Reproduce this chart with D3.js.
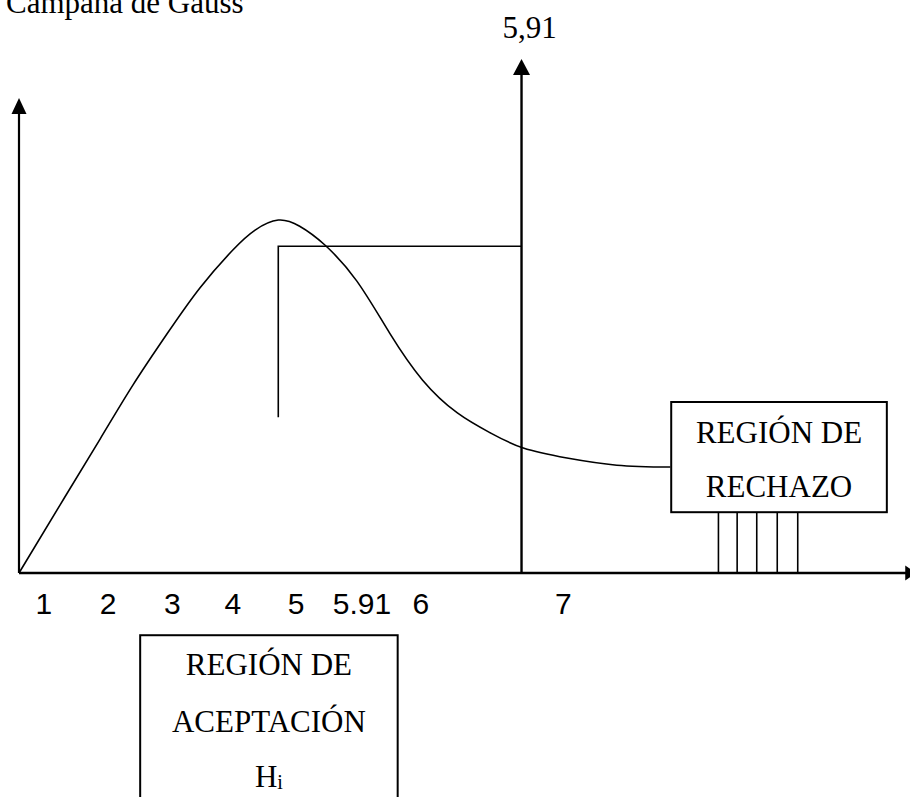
<!DOCTYPE html>
<html>
<head>
<meta charset="utf-8">
<script src="https://cdn.jsdelivr.net/npm/d3@7"></script>
<style>
  html, body { margin: 0; padding: 0; background: #fff; overflow: hidden; }
  svg { display: block; }
  .serif { font-family: "Liberation Serif", "Times New Roman", serif; font-size: 31px; fill: #000; }
  .sans { font-family: "Liberation Sans", Arial, sans-serif; font-size: 30px; fill: #000; }
</style>
</head>
<body>
<svg id="chart" width="910" height="797"></svg>
<script>
// Bell-shaped curve, in diagram units (x: 0–100 along the horizontal axis, y: 0–100 up the vertical axis)
const curveX = [0, 4.6, 9.1, 12.8, 16.6, 20.3, 24.0, 26.5, 29.1, 31.5, 34.3, 37.9, 41.6, 45.3, 49.2, 52.9, 56.6, 61.5, 67.1, 73.1];
const curveY = [0, 14.3, 28.2, 39.6, 50.3, 60.0, 68.0, 72.2, 74.3, 73.0, 69.1, 61.5, 50.5, 40.6, 33.7, 29.5, 26.3, 24.2, 22.7, 22.3];

// Labels under the horizontal axis and the slot each one sits in
const tickLabels = ["1", "2", "3", "4", "5", "5.91", "6", "7"];
const tickSlots  = [2.8, 10.0, 17.2, 24.0, 31.1, 38.5, 45.1, 61.1];

// Critical value line
const criticalLabel = "5,91";
const criticalX = [56.4];
const criticalTop = [108.2];

// Bracket pointing from the critical line into the curve
const bracketX = [29.1, 29.1, 56.4];
const bracketY = [32.8, 68.8, 68.8];

// Rejection region box and the hatch strokes below it
const rejectBox = { x0: 73.2, x1: 97.4, y0: 12.8, y1: 36.0 };
const rejectText = ["REGIÓN DE", "RECHAZO"];
const hatchX = [78.5, 80.6, 82.8, 85.1, 87.4];

// Acceptance region box (runs off the bottom of the page)
const acceptBox = { x0: 13.6, x1: 42.5, y0: -60, y1: -13.1 };
const acceptText = ["REGIÓN DE", "ACEPTACIÓN"];

const title = "Campana de Gauss";

const svg = d3.select("#chart");
const x = d3.scaleLinear().domain([0, 100]).range([19, 910]);
const y = d3.scaleLinear().domain([0, 100]).range([573, 98]);

// Arrowhead helpers
function arrowUp(cx, tipY, w, h) {
  return `M${cx},${tipY} L${cx - w / 2},${tipY + h} L${cx + w / 2},${tipY + h} Z`;
}
function arrowRight(tipX, cy, w, h) {
  return `M${tipX},${cy} L${tipX - h},${cy - w / 2} L${tipX - h},${cy + w / 2} Z`;
}

// Title
svg.append("text").attr("class", "serif")
  .attr("x", 6).attr("y", 13).text(title);

// Vertical axis
svg.append("line")
  .attr("x1", x(0)).attr("x2", x(0))
  .attr("y1", y(0)).attr("y2", y(100) + 10)
  .attr("stroke", "#000").attr("stroke-width", 2.2);
svg.append("path").attr("d", arrowUp(x(0), y(100), 15, 16)).attr("fill", "#000");

// Horizontal axis
svg.append("line")
  .attr("x1", x(0)).attr("x2", x(100))
  .attr("y1", y(0)).attr("y2", y(0))
  .attr("stroke", "#000").attr("stroke-width", 2.4);
svg.append("path").attr("d", arrowRight(x(100.7), y(0), 15, 11)).attr("fill", "#000");

// Axis labels
svg.selectAll("text.tick").data(tickLabels).join("text")
  .attr("class", "sans tick")
  .attr("text-anchor", "middle")
  .attr("x", (d, i) => x(tickSlots[i]))
  .attr("y", y(0) + 41)
  .text(d => d);

// Curve
const line = d3.line()
  .x(d => x(d[0])).y(d => y(d[1]))
  .curve(d3.curveNatural);
svg.append("path")
  .datum(curveX.map((v, i) => [v, curveY[i]]))
  .attr("d", line)
  .attr("fill", "none").attr("stroke", "#000").attr("stroke-width", 1.6);

// Critical value line with arrow
svg.append("line")
  .attr("x1", x(criticalX[0])).attr("x2", x(criticalX[0]))
  .attr("y1", y(0)).attr("y2", y(criticalTop[0]) + 10)
  .attr("stroke", "#000").attr("stroke-width", 2.4);
svg.append("path").attr("d", arrowUp(x(criticalX[0]), y(criticalTop[0]), 17, 16)).attr("fill", "#000");
svg.append("text").attr("class", "serif")
  .attr("text-anchor", "middle")
  .attr("x", x(criticalX[0]) + 8).attr("y", 38)
  .text(criticalLabel);

// Bracket
svg.append("path")
  .datum(bracketX.map((v, i) => [v, bracketY[i]]))
  .attr("d", d3.line().x(d => x(d[0])).y(d => y(d[1])))
  .attr("fill", "none").attr("stroke", "#000").attr("stroke-width", 1.6);

// Rejection region
svg.append("rect")
  .attr("x", x(rejectBox.x0)).attr("y", y(rejectBox.y1))
  .attr("width", x(rejectBox.x1) - x(rejectBox.x0))
  .attr("height", y(rejectBox.y0) - y(rejectBox.y1))
  .attr("fill", "#fff").attr("stroke", "#000").attr("stroke-width", 2);
const rcx = (x(rejectBox.x0) + x(rejectBox.x1)) / 2;
svg.selectAll("text.rej").data(rejectText).join("text")
  .attr("class", "serif rej").attr("text-anchor", "middle")
  .attr("x", rcx).attr("y", (d, i) => y(rejectBox.y1) + 41 + i * 54)
  .text(d => d);
svg.selectAll("line.hatch").data(hatchX).join("line")
  .attr("class", "hatch")
  .attr("x1", d => x(d)).attr("x2", d => x(d))
  .attr("y1", y(rejectBox.y0)).attr("y2", y(0))
  .attr("stroke", "#000").attr("stroke-width", 1.6);

// Acceptance region
svg.append("rect")
  .attr("x", x(acceptBox.x0)).attr("y", y(acceptBox.y1))
  .attr("width", x(acceptBox.x1) - x(acceptBox.x0))
  .attr("height", y(acceptBox.y0) - y(acceptBox.y1))
  .attr("fill", "#fff").attr("stroke", "#000").attr("stroke-width", 2);
const acx = (x(acceptBox.x0) + x(acceptBox.x1)) / 2;
svg.selectAll("text.acc").data(acceptText).join("text")
  .attr("class", "serif acc").attr("text-anchor", "middle")
  .attr("x", acx).attr("y", (d, i) => y(acceptBox.y1) + 40 + i * 57)
  .text(d => d);
const h = svg.append("text").attr("class", "serif").attr("text-anchor", "middle")
  .attr("x", acx).attr("y", y(acceptBox.y1) + 152);
h.append("tspan").text("H");
h.append("tspan").attr("font-size", 20).attr("dy", 2).text("i");
</script>
</body>
</html>
